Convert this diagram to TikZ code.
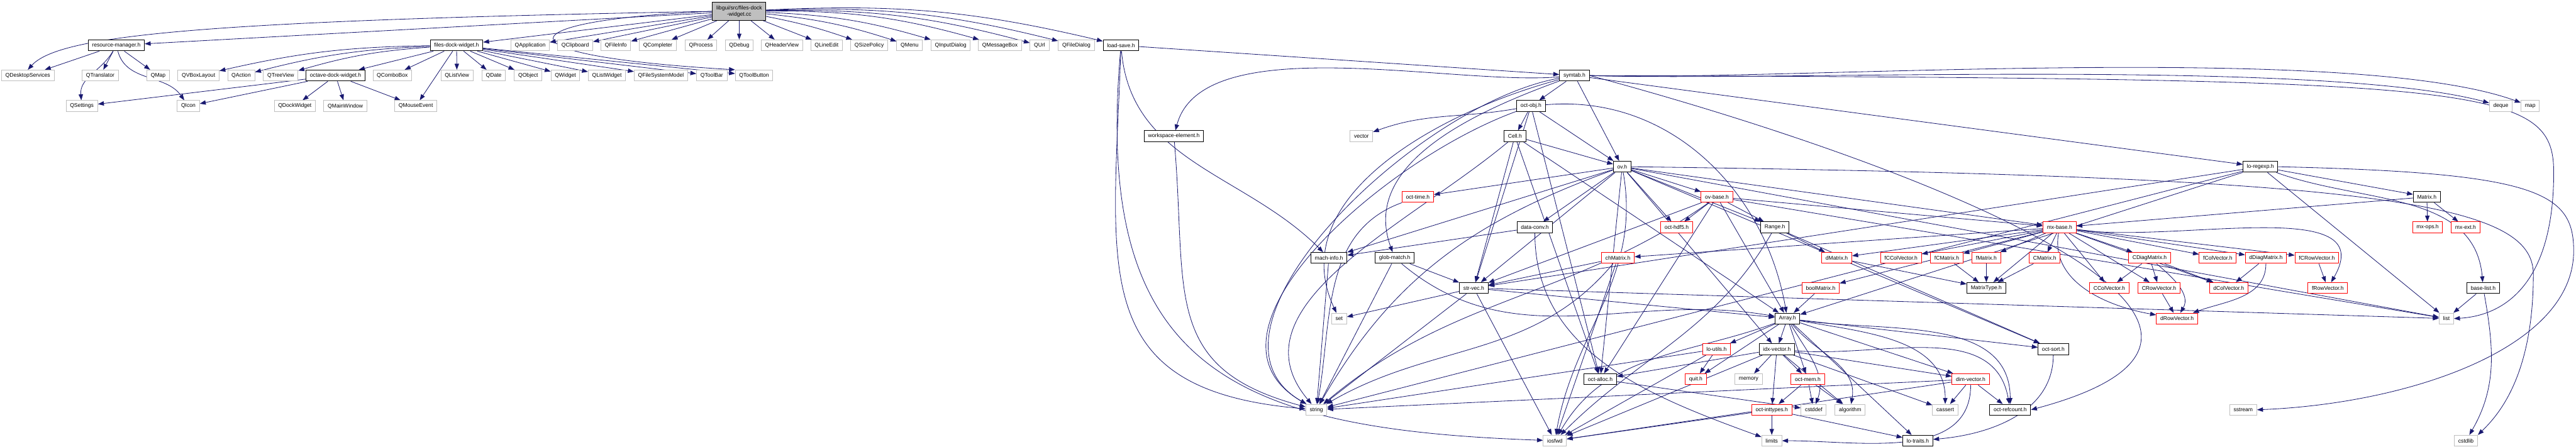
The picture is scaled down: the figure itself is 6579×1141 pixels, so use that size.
\documentclass[tikz,border=0pt]{standalone}
\usepackage{fontspec}
\setmainfont{Liberation Sans}
\usetikzlibrary{arrows.meta, backgrounds}
\definecolor{edgeblue}{HTML}{191970}
\definecolor{sysgray}{HTML}{BFBFBF}

\begin{document}
\begin{tikzpicture}[
    x=0.25pt, y=0.25pt,
    every node/.style={font=\fontsize{3.45}{4}\selectfont, inner xsep=2.5pt, inner ysep=0pt, minimum height=7pt, line width=0.4pt, fill=white},
    srcfile/.style={rectangle, draw=black, fill=sysgray, minimum height=11.5pt, align=center},
    hdr/.style={rectangle, draw=black},
    trunc/.style={rectangle, draw=red},
    sys/.style={rectangle, draw=sysgray},
    dep/.style={-{Triangle[length=3.8pt,width=2.8pt]}, color=edgeblue, line width=0.33pt}
]
    \useasboundingbox (0,0) rectangle (6579,1141);

    % the file itself
    \node[srcfile] (libgui) at (1888,1112) {libgui/src/files-dock\\-widget.cc};

    % direct includes
    \node[hdr] (resmgr) at (297,1025) {resource-manager.h};
    \node[hdr] (fdwh) at (1166,1025) {files-dock-widget.h};
    \node[sys] (qapp) at (1354,1025) {QApplication};
    \node[sys] (qclip) at (1469,1025) {QClipboard};
    \node[sys] (qfinfo) at (1573,1025) {QFileInfo};
    \node[sys] (qcompl) at (1680,1025) {QCompleter};
    \node[sys] (qproc) at (1790,1025) {QProcess};
    \node[sys] (qdebug) at (1888,1025) {QDebug};
    \node[sys] (qhead) at (1997,1025) {QHeaderView};
    \node[sys] (qline) at (2111,1025) {QLineEdit};
    \node[sys] (qsize) at (2220,1025) {QSizePolicy};
    \node[sys] (qmenu) at (2323,1025) {QMenu};
    \node[sys] (qinput) at (2428,1025) {QInputDialog};
    \node[sys] (qmsg) at (2554,1025) {QMessageBox};
    \node[sys] (qurl) at (2655,1025) {QUrl};
    \node[sys] (qfdlg) at (2749,1025) {QFileDialog};
    \node[hdr] (loadsave) at (2863,1025) {load-save.h};

    % Qt headers and symtab
    \node[sys] (qdesk) at (71,948) {QDesktopServices};
    \node[sys] (qtrans) at (256,948) {QTranslator};
    \node[sys] (qmap) at (404,948) {QMap};
    \node[sys] (qvbox) at (507,948) {QVBoxLayout};
    \node[sys] (qaction) at (616,948) {QAction};
    \node[sys] (qtree) at (717,948) {QTreeView};
    \node[hdr] (octdock) at (857,948) {octave-dock-widget.h};
    \node[sys] (qcombo) at (1002,948) {QComboBox};
    \node[sys] (qlistv) at (1167,948) {QListView};
    \node[sys] (qdate) at (1261,948) {QDate};
    \node[sys] (qobject) at (1349,948) {QObject};
    \node[sys] (qwidget) at (1444,948) {QWidget};
    \node[sys] (qlistw) at (1550,948) {QListWidget};
    \node[sys] (qfsm) at (1688,948) {QFileSystemModel};
    \node[sys] (qtoolbar) at (1818,948) {QToolBar};
    \node[sys] (qtoolbtn) at (1926,948) {QToolButton};
    \node[hdr] (symtab) at (4021,948) {symtab.h};

    \node[sys] (qsettings) at (209,870) {QSettings};
    \node[sys] (qicon) at (481,870) {QIcon};
    \node[sys] (qdock) at (753,870) {QDockWidget};
    \node[sys] (qmainwin) at (882,870) {QMainWindow};
    \node[sys] (qmouse) at (1062,870) {QMouseEvent};
    \node[hdr] (octobj) at (3910,870) {oct-obj.h};
    \node[sys] (deque) at (6387,870) {deque};
    \node[sys] (map) at (6462,870) {map};

    \node[hdr] (workspace) at (2998,793) {workspace-element.h};
    \node[sys] (vector) at (3477,793) {vector};
    \node[hdr] (cell) at (3869,793) {Cell.h};

    \node[hdr] (ovh) at (4143,715) {ov.h};
    \node[hdr] (loregexp) at (5773,715) {lo-regexp.h};

    \node[trunc] (octtime) at (3621,638) {oct-time.h};
    \node[trunc] (ovbase) at (4385,638) {ov-base.h};
    \node[hdr] (matrixh) at (6198,638) {Matrix.h};

    \node[hdr] (datconv) at (3920,560) {data-conv.h};
    \node[trunc] (octhdf5) at (4282,560) {oct-hdf5.h};
    \node[hdr] (rangeh) at (4533,560) {Range.h};
    \node[trunc] (mxbase) at (5260,560) {mx-base.h};
    \node[trunc] (mxops) at (6200,560) {mx-ops.h};
    \node[trunc] (mxext) at (6297,560) {mx-ext.h};

    \node[hdr] (machinfo) at (3394,482) {mach-info.h};
    \node[hdr] (globmatch) at (3562,482) {glob-match.h};
    \node[trunc] (chmatrix) at (4132,482) {chMatrix.h};
    \node[trunc] (dmatrix) at (4691,482) {dMatrix.h};
    \node[trunc] (fccolvec) at (4855,482) {fCColVector.h};
    \node[trunc] (fcmatrix) at (4972,482) {fCMatrix.h};
    \node[trunc] (fmatrix) at (5073,482) {fMatrix.h};
    \node[trunc] (cmatrix) at (5222,482) {CMatrix.h};
    \node[trunc] (cdiag) at (5490,482) {CDiagMatrix.h};
    \node[trunc] (fcolvec) at (5664,482) {fColVector.h};
    \node[trunc] (ddiag) at (5787,482) {dDiagMatrix.h};
    \node[trunc] (fcrowvec) at (5917,482) {fCRowVector.h};

    \node[hdr] (strvec) at (3764,405) {str-vec.h};
    \node[trunc] (boolmat) at (4650,405) {boolMatrix.h};
    \node[hdr] (mattype) at (5073,405) {MatrixType.h};
    \node[trunc] (ccolvec) at (5387,405) {CColVector.h};
    \node[trunc] (crowvec) at (5514,405) {CRowVector.h};
    \node[trunc] (dcolvec) at (5692,405) {dColVector.h};
    \node[trunc] (frowvec) at (5945,405) {fRowVector.h};
    \node[hdr] (baselist) at (6342,405) {base-list.h};

    \node[sys] (set) at (3420,327) {set};
    \node[hdr] (arrayh) at (4565,327) {Array.h};
    \node[trunc] (drowvec) at (5560,327) {dRowVector.h};
    \node[sys] (list) at (6248,327) {list};

    \node[trunc] (loutils) at (4384,249) {lo-utils.h};
    \node[hdr] (idxvec) at (4538,249) {idx-vector.h};
    \node[hdr] (octsort) at (5244,249) {oct-sort.h};

    \node[hdr] (octalloc) at (4087,172) {oct-alloc.h};
    \node[trunc] (quit) at (4331,172) {quit.h};
    \node[sys] (memory) at (4466,172) {memory};
    \node[trunc] (octmem) at (4617,172) {oct-mem.h};
    \node[trunc] (dimvec) at (5033,172) {dim-vector.h};

    \node[sys] (string) at (3362,94) {string};
    \node[trunc] (octint) at (4525,94) {oct-inttypes.h};
    \node[sys] (cstddef) at (4632,94) {cstddef};
    \node[sys] (algorithm) at (4725,94) {algorithm};
    \node[sys] (cassert) at (4968,94) {cassert};
    \node[hdr] (octref) at (5134,94) {oct-refcount.h};
    \node[sys] (sstream) at (5729,94) {sstream};

    \node[sys] (iosfwd) at (3971,15) {iosfwd};
    \node[sys] (limits) at (4525,15) {limits};
    \node[hdr] (lotraits) at (4898,15) {lo-traits.h};
    \node[sys] (cstdlib) at (6298,15) {cstdlib};

    \begin{scope}[on background layer]
    % files-dock-widget.cc
    \draw[dep] (libgui.west) .. controls (500,1088) and (150,1050) .. (qdesk.north);
    \draw[dep] (libgui) -- (resmgr);
    \draw[dep] (libgui) -- (fdwh);
    \draw[dep] (libgui) -- (qapp);
    \draw[dep] (libgui) -- (qclip);
    \draw[dep] (libgui) -- (qfinfo);
    \draw[dep] (libgui) -- (qcompl);
    \draw[dep] (libgui) -- (qproc);
    \draw[dep] (libgui) -- (qdebug);
    \draw[dep] (libgui) -- (qhead);
    \draw[dep] (libgui) -- (qline);
    \draw[dep] (libgui) to[bend left=4] (qsize);
    \draw[dep] (libgui) to[bend left=6] (qmenu);
    \draw[dep] (libgui) to[bend left=7] (qinput);
    \draw[dep] (libgui) to[bend left=8] (qmsg);
    \draw[dep] (libgui) to[bend left=8] (qurl);
    \draw[dep] (libgui) to[bend left=8] (qfdlg);
    \draw[dep] (libgui) to[bend left=8] (loadsave);
    \draw[dep] (libgui.west) .. controls (1300,1090) and (1240,1000) .. (qtoolbtn.north west);

    % resource-manager.h
    \draw[dep] (resmgr) -- (qdesk);
    \draw[dep] (resmgr) to[out=-120,in=95] (qsettings);
    \draw[dep] (resmgr) -- (qtrans);
    \draw[dep] (resmgr) -- (qmap);
    \draw[dep] (resmgr) to[out=-75,in=125] (qicon);

    % files-dock-widget.h
    \draw[dep] (fdwh) to[bend right=6] (qvbox);
    \draw[dep] (fdwh) to[bend right=6] (qaction);
    \draw[dep] (fdwh) to[bend right=6] (qtree);
    \draw[dep] (fdwh) -- (octdock);
    \draw[dep] (fdwh) -- (qcombo);
    \draw[dep] (fdwh) -- (qmouse);
    \draw[dep] (fdwh) -- (qlistv);
    \draw[dep] (fdwh) -- (qdate);
    \draw[dep] (fdwh) -- (qobject);
    \draw[dep] (fdwh) -- (qwidget);
    \draw[dep] (fdwh) -- (qlistw);
    \draw[dep] (fdwh) -- (qfsm);
    \draw[dep] (fdwh) -- (qtoolbar);
    \draw[dep] (fdwh) -- (qtoolbtn);

    % octave-dock-widget.h
    \draw[dep] (octdock) -- (qsettings);
    \draw[dep] (octdock) -- (qicon);
    \draw[dep] (octdock) -- (qdock);
    \draw[dep] (octdock) -- (qmainwin);
    \draw[dep] (octdock) -- (qmouse);

    % load-save.h
    \draw[dep] (loadsave) -- (symtab);
    \draw[dep] (loadsave) to[out=-85,in=135] (machinfo);
    \draw[dep] (loadsave) to[out=-92,in=175,looseness=1.4] (string);
    \draw[dep] (loadsave) to[out=-95,in=178,looseness=1.4] (iosfwd);

    % symtab.h
    \draw[dep] (symtab) -- (octobj);
    \draw[dep] (symtab) -- (ovh);
    \draw[dep] (symtab) -- (loregexp);
    \draw[dep] (symtab.east) to[out=-2,in=165,looseness=0.5] (deque);
    \draw[dep] (symtab.east) to[out=-2,in=160,looseness=0.5] (map);
    \draw[dep] (symtab.east) .. controls (6350,940) and (6522,925) .. (6522,700) .. controls (6522,420) and (6400,335) .. (list.east);
    \draw[dep] (symtab) to[out=185,in=75,looseness=0.7] (workspace);
    \draw[dep] (symtab) to[out=200,in=110] (globmatch);
    \draw[dep] (symtab) to[out=195,in=115] (set);
    \draw[dep] (symtab) to[out=190,in=150,looseness=0.9] (string);
    \draw[dep] (symtab.east) to[out=-15,in=15,looseness=1.5] (octref.east);

    % workspace-element.h
    \draw[dep] (workspace) to[out=-85,in=165,looseness=1.3] (string);

    % oct-obj.h
    \draw[dep] (octobj) -- (cell);
    \draw[dep] (octobj) -- (ovh);
    \draw[dep] (octobj) to[out=190,in=20] (vector);
    \draw[dep] (octobj) -- (strvec);
    \draw[dep] (octobj) -- (octalloc);
    \draw[dep] (octobj) to[out=5,in=100] (arrayh);
    \draw[dep] (octobj) to[out=200,in=150] (string);

    % Cell.h
    \draw[dep] (cell) -- (ovh);
    \draw[dep] (cell) -- (arrayh);
    \draw[dep] (cell) -- (octalloc);
    \draw[dep] (cell) -- (strvec);
    \draw[dep] (cell) to[out=220,in=130] (string);

    % ov.h
    \draw[dep] (ovh) -- (octtime);
    \draw[dep] (ovh) -- (datconv);
    \draw[dep] (ovh) -- (machinfo);
    \draw[dep] (ovh) -- (strvec);
    \draw[dep] (ovh) -- (octalloc);
    \draw[dep] (ovh) -- (ovbase);
    \draw[dep] (ovh) -- (octhdf5);
    \draw[dep] (ovh) -- (rangeh);
    \draw[dep] (ovh) -- (mxbase);
    \draw[dep] (ovh) -- (idxvec);
    \draw[dep] (ovh) -- (octsort);
    \draw[dep] (ovh) -- (list);
    \draw[dep] (ovh) to[out=200,in=60] (string);
    \draw[dep] (ovh) to[out=-80,in=80] (iosfwd);
    \draw[dep] (ovh.east) .. controls (6100,690) and (6470,620) .. (6470,440) .. controls (6470,180) and (6380,80) .. (cstdlib.north east);

    % ov-base.h
    \draw[dep] (ovbase) -- (octhdf5);
    \draw[dep] (ovbase) -- (rangeh);
    \draw[dep] (ovbase) -- (mxbase);
    \draw[dep] (ovbase) -- (arrayh);
    \draw[dep] (ovbase) -- (strvec);
    \draw[dep] (ovbase) -- (octalloc);
    \draw[dep] (ovbase) -- (list);
    \draw[dep] (ovbase) to[out=215,in=40] (string);

    % oct-time.h, data-conv.h, mach-info.h, glob-match.h
    \draw[dep] (octtime) to[out=200,in=80] (string);
    \draw[dep] (datconv) -- (machinfo);
    \draw[dep] (datconv) to[out=-90,in=160] (limits);
    \draw[dep] (machinfo) -- (string);
    \draw[dep] (globmatch) -- (strvec);
    \draw[dep] (globmatch) -- (string);
    \draw[dep] (globmatch) to[out=-40,in=170] (arrayh);

    % chMatrix.h, str-vec.h, oct-alloc.h
    \draw[dep] (chmatrix) -- (strvec);
    \draw[dep] (chmatrix) to[out=230,in=30] (string);
    \draw[dep] (chmatrix) -- (iosfwd);
    \draw[dep] (strvec) -- (set);
    \draw[dep] (strvec) -- (string);
    \draw[dep] (strvec) -- (iosfwd);
    \draw[dep] (strvec) -- (arrayh);
    \draw[dep] (strvec) -- (list);
    \draw[dep] (octalloc) -- (cstddef);

    % Range.h and matrices
    \draw[dep] (rangeh) -- (dmatrix);
    \draw[dep] (rangeh) -- (octsort);
    \draw[dep] (rangeh) to[out=-120,in=45] (iosfwd);
    \draw[dep] (dmatrix) -- (mattype);
    \draw[dep] (fcmatrix) -- (mattype);
    \draw[dep] (fmatrix) -- (mattype);
    \draw[dep] (cmatrix) -- (mattype);
    \draw[dep] (boolmat) -- (arrayh);

    % mx-base.h
    \draw[dep] (mxbase) -- (chmatrix);
    \draw[dep] (mxbase) -- (dmatrix);
    \draw[dep] (mxbase) -- (fccolvec);
    \draw[dep] (mxbase) -- (fcmatrix);
    \draw[dep] (mxbase) -- (fmatrix);
    \draw[dep] (mxbase) -- (boolmat);
    \draw[dep] (mxbase) -- (cmatrix);
    \draw[dep] (mxbase) -- (cdiag);
    \draw[dep] (mxbase) -- (fcolvec);
    \draw[dep] (mxbase) -- (ddiag);
    \draw[dep] (mxbase) -- (fcrowvec);
    \draw[dep] (mxbase) -- (ccolvec);
    \draw[dep] (mxbase) -- (crowvec);
    \draw[dep] (mxbase) -- (dcolvec);
    \draw[dep] (mxbase) -- (mattype);
    \draw[dep] (mxbase) to[out=-100,in=170] (drowvec);
    \draw[dep] (mxbase) to[out=-8,in=60] (frowvec);

    % vectors
    \draw[dep] (cdiag) -- (ccolvec);
    \draw[dep] (cdiag) -- (crowvec);
    \draw[dep] (cdiag) -- (dcolvec);
    \draw[dep] (cdiag) to[out=-40,in=60] (drowvec);
    \draw[dep] (ddiag) -- (dcolvec);
    \draw[dep] (ddiag) to[out=-90,in=20] (drowvec);
    \draw[dep] (fcrowvec) -- (frowvec);
    \draw[dep] (crowvec) -- (drowvec);

    % Array.h
    \draw[dep] (arrayh) -- (loutils);
    \draw[dep] (arrayh) -- (quit);
    \draw[dep] (arrayh) -- (idxvec);
    \draw[dep] (arrayh) -- (octmem);
    \draw[dep] (arrayh) to[out=-60,in=70] (cstddef);
    \draw[dep] (arrayh) to[out=-50,in=80] (algorithm);
    \draw[dep] (arrayh) -- (lotraits);
    \draw[dep] (arrayh) to[out=-10,in=90] (cassert);
    \draw[dep] (arrayh) -- (dimvec);
    \draw[dep] (arrayh) to[out=-8,in=90] (octref);
    \draw[dep] (arrayh) -- (octsort);
    \draw[dep] (arrayh) to[out=200,in=60] (iosfwd);

    % idx-vector.h
    \draw[dep] (idxvec) -- (memory);
    \draw[dep] (idxvec) -- (octint);
    \draw[dep] (idxvec) -- (octmem);
    \draw[dep] (idxvec) -- (algorithm);
    \draw[dep] (idxvec) -- (cassert);
    \draw[dep] (idxvec) -- (dimvec);
    \draw[dep] (idxvec) to[out=-5,in=100] (octref);
    \draw[dep] (idxvec) -- (octalloc);
    \draw[dep] (idxvec) -- (iosfwd);

    % lo-utils.h, oct-mem.h, dim-vector.h, oct-inttypes.h, oct-sort.h
    \draw[dep] (loutils) -- (quit);
    \draw[dep] (loutils) -- (string);
    \draw[dep] (loutils) -- (iosfwd);
    \draw[dep] (octmem) -- (octint);
    \draw[dep] (octmem) -- (cstddef);
    \draw[dep] (octmem) -- (algorithm);
    \draw[dep] (dimvec) -- (cassert);
    \draw[dep] (dimvec) -- (octref);
    \draw[dep] (dimvec) to[out=-90,in=0] (limits);
    \draw[dep] (dimvec) -- (string);
    \draw[dep] (dimvec) -- (iosfwd);
    \draw[dep] (octint) -- (limits);
    \draw[dep] (octint) -- (lotraits);
    \draw[dep] (octint) -- (iosfwd);
    \draw[dep] (octsort) to[out=-90,in=5] (lotraits);

    % lo-regexp.h, Matrix.h, base-list.h
    \draw[dep] (loregexp) -- (arrayh);
    \draw[dep] (loregexp) -- (strvec);
    \draw[dep] (loregexp) -- (string);
    \draw[dep] (loregexp) -- (matrixh);
    \draw[dep] (loregexp) to[out=-20,in=95] (baselist);
    \draw[dep] (loregexp) -- (list);
    \draw[dep] (loregexp.east) .. controls (6480,700) and (6573,650) .. (6573,500) .. controls (6573,250) and (6150,110) .. (sstream.east);
    \draw[dep] (matrixh) -- (mxops);
    \draw[dep] (matrixh) -- (mxext);
    \draw[dep] (matrixh) -- (mxbase);
    \draw[dep] (baselist) -- (list);
    \draw[dep] (baselist) to[out=-80,in=60] (cstdlib);
    \end{scope}
\end{tikzpicture}
\end{document}
